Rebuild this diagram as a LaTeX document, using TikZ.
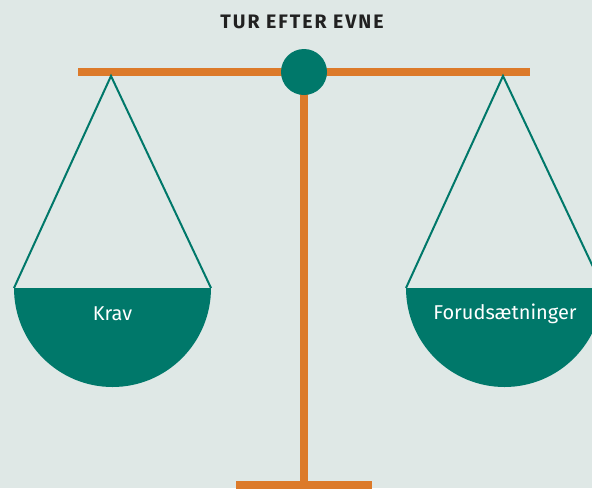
\documentclass[tikz,border=0pt]{standalone}
\usepackage{fontspec}
\setmainfont{Fira Sans}
\newfontfamily\titlefont[LetterSpace=10]{Fira Sans}
\definecolor{bg}{HTML}{DFE8E6}
\definecolor{beam}{HTML}{DC7A2A}
\definecolor{teal}{HTML}{00786A}
\begin{document}
\begin{tikzpicture}[x=1pt,y=-1pt,
  bar/.style={draw=beam,line width=8pt},
  cord/.style={draw=teal,line width=2pt},
  pan/.style={fill=teal},
  pantext/.style={text=white,font=\fontsize{20}{24}\selectfont},
  titletext/.style={text=black!87,font=\titlefont\bfseries\fontsize{19.5}{23}\selectfont}]
\fill[bg] (0,0) rectangle (592,488);
\useasboundingbox (0,0) rectangle (592,488);
\begin{scope}
\clip (0,0) rectangle (592,488);
% base and post
\coordinate (ptop) at (304,72);
\coordinate (pbot) at (304,484);
\coordinate (bl) at (236,485);
\coordinate (br) at (372,485);
\draw[bar] (ptop) -- (pbot);
\draw[bar] (bl) -- (br);
% beam
\coordinate (beamL) at (78,72);
\coordinate (beamR) at (530,72);
\draw[bar] (beamL) -- (beamR);
% hook points
\coordinate (hL) at (111,76);
\coordinate (hR) at (503,76);
% left pan
\coordinate (pL1) at (14,288);
\coordinate (pL2) at (211,288);
\draw[cord] (pL1) -- (hL) -- (pL2);
\fill[pan] (pL1) arc[start angle=180,end angle=0,x radius=98.5pt,y radius=-99pt] -- cycle;
\node[pantext] (krav) at (112.5,314) {Krav};
% right pan
\coordinate (pR1) at (406,288);
\coordinate (pR2) at (603,288);
\draw[cord] (pR1) -- (hR) -- (pR2);
\fill[pan] (pR1) arc[start angle=180,end angle=0,x radius=98.5pt,y radius=-99pt] -- cycle;
\node[pantext] (forud) at (505,314) {Forudsætninger};
% pivot
\node[circle,fill=teal,minimum size=46pt,inner sep=0] (pivot) at (304,72) {};
\end{scope}
\node[titletext] (title) at (302,22) {TUR EFTER EVNE};
\end{tikzpicture}
\end{document}
